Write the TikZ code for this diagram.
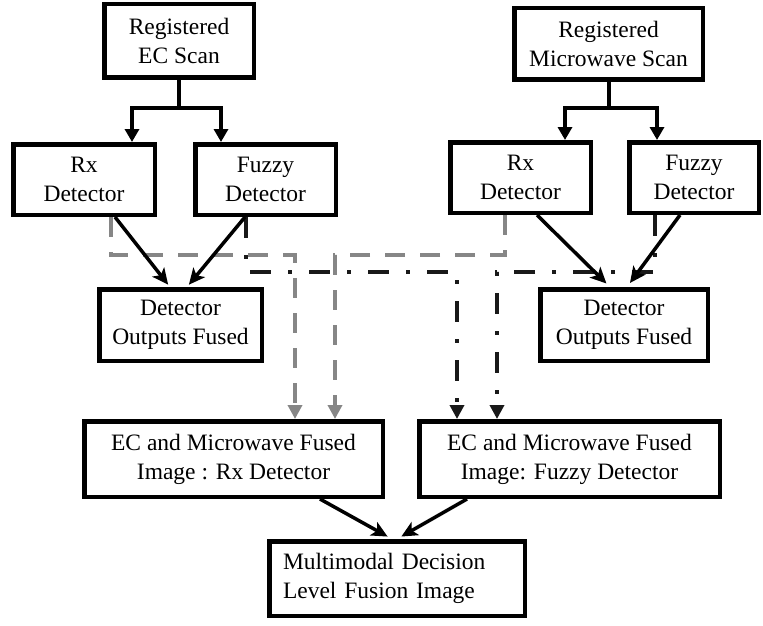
\documentclass[tikz,border=0pt]{standalone}
\usepackage{fontspec}
\setmainfont{Liberation Serif}
\usetikzlibrary{arrows.meta}
\begin{document}
\begin{tikzpicture}[x=1pt,y=-1pt,
  box/.style={draw, line width=4.5pt, align=center, inner sep=0pt,
    font=\fontsize{23.5}{29}\selectfont},
  conn/.style={line width=4pt, line join=miter},
  toptip/.style={-{Triangle[width=14pt,length=13pt]}},
  diagtip/.style={line width=3.5pt, -{Stealth[width=15pt,length=16pt,inset=4pt]}},
  grayd/.style={line width=4pt, color=gray!95, dash pattern=on 20pt off 15pt,
    -{Triangle[width=14pt,length=14pt]}},
  dashdotblk/.style={line width=4pt, color=black!90, dash pattern=on 21pt off 17pt on 4pt off 17pt,
    -{Triangle[width=14pt,length=14pt]}}
]
\useasboundingbox (0,0) rectangle (763,626);
\fill[white] (0,0) rectangle (763,626);

% boxes
\node[box, minimum width=149.5pt, minimum height=73.5pt] (ecscan) at (179,41) {Registered\\EC Scan};
\node[box, minimum width=188.5pt, minimum height=71.5pt] (mwscan) at (608.5,44) {Registered\\Microwave Scan};
\node[box, minimum width=141.5pt, minimum height=70.5pt] (ecrx) at (84,179.5) {Rx\\Detector};
\node[box, minimum width=140.5pt, minimum height=70.5pt] (ecfz) at (265.5,179.5) {Fuzzy\\Detector};
\node[box, minimum width=140.5pt, minimum height=70.5pt] (mwrx) at (520.5,177.5) {Rx\\Detector};
\node[box, minimum width=129.5pt, minimum height=70.5pt] (mwfz) at (694,177.5) {Fuzzy\\Detector};
\node[box, minimum width=162.5pt, minimum height=71.5pt] (ecdof) at (180.5,325) {Detector\\Outputs Fused};
\node[box, minimum width=167.5pt, minimum height=71.5pt] (mwdof) at (624,325) {Detector\\Outputs Fused};
\node[box, minimum width=298.5pt, minimum height=75.5pt] (rxfused) at (233.5,459) {EC and Microwave Fused\\Image : Rx Detector};
\node[box, minimum width=300.5pt, minimum height=75.5pt] (fzfused) at (569.5,459) {EC and Microwave Fused\\Image: Fuzzy Detector};
\node[box, minimum width=255.5pt, minimum height=74.5pt, text width=228pt, align=left] (multi) at (397,578.5) {Multimodal Decision\\Level Fusion Image};

% top connectors
\draw[conn] (ecscan.south) -- ++(0,28) coordinate (ecj);
\draw[conn,toptip] (ecj) -| ([xshift=48pt]ecrx.north);
\draw[conn,toptip] (ecj) -| ([xshift=-44.5pt]ecfz.north);
\draw[conn] (mwscan.south) -- ++(0,26) coordinate (mwj);
\draw[conn,toptip] (mwj) -| ([xshift=44.5pt]mwrx.north);
\draw[conn,toptip] (mwj) -| ([xshift=-37pt]mwfz.north);

% gray dashed (Rx path)
\draw[grayd] ([xshift=27pt]ecrx.south) -- ++(0,38) -| ([xshift=61.5pt]rxfused.north);
\draw[grayd] ([xshift=-15.5pt]mwrx.south) -- ++(0,40) -| ([xshift=101.5pt]rxfused.north);

% black dash-dot (Fuzzy path)
\draw[dashdotblk] ([xshift=-19.5pt]ecfz.south) -- ++(0,55) -| ([xshift=-112.5pt]fzfused.north);
\draw[dashdotblk] ([xshift=-39pt]mwfz.south) -- ++(0,57) -| ([xshift=-72.5pt]fzfused.north);

% detector arrows
\draw[diagtip, shorten >=3pt] ([xshift=31pt]ecrx.south) -- ([xshift=-10.5pt]ecdof.north);
\draw[diagtip, shorten >=3pt] ([xshift=-20.5pt]ecfz.south) -- ([xshift=6.5pt]ecdof.north);
\draw[diagtip, shorten >=5pt] ([xshift=16.5pt]mwrx.south) -- ([xshift=-14pt]mwdof.north);
\draw[diagtip, shorten >=5pt] ([xshift=-14pt]mwfz.south) -- ([xshift=3pt]mwdof.north);

% bottom arrows
\draw[diagtip, shorten >=5pt] ([xshift=86.5pt]rxfused.south) -- ([xshift=-5pt]multi.north);
\draw[diagtip, shorten >=5pt] ([xshift=-102.5pt]fzfused.south) -- ([xshift=0pt]multi.north);
\end{tikzpicture}
\end{document}
